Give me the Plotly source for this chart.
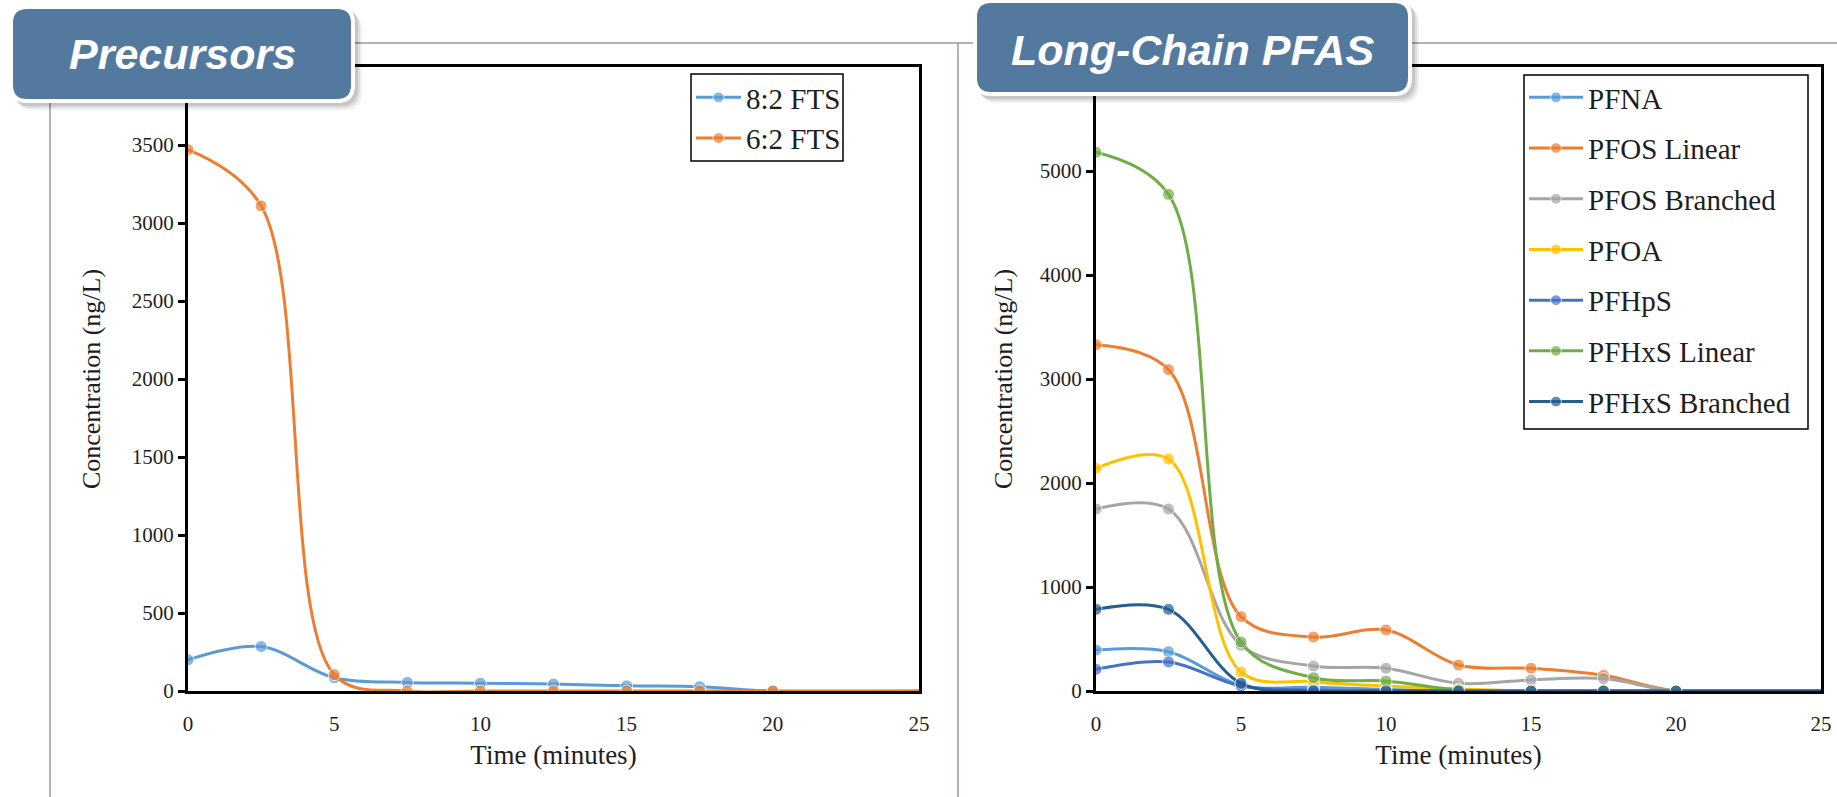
import plotly.graph_objects as go

# ---------------- data ----------------
time_min = [0, 2.5, 5, 7.5, 10, 12.5, 15, 17.5, 20, 25]

fts_82 = [200, 285, 85, 55, 50, 45, 33, 28, 0, 0]
fts_62 = [3470, 3110, 105, 0, 0, 0, 0, 0, 0, 0]

pfna = [394, 378, 54, 35, 15, 0, 0, 0, 0, 0]
pfos_linear = [3330, 3090, 715, 519, 587, 250, 218, 151, 0, 0]
pfos_branched = [1750, 1750, 439, 240, 218, 74, 106, 119, 0, 0]
pfoa = [2140, 2230, 183, 90, 48, 20, 0, 0, 0, 0]
pfhps = [208, 279, 48, 10, 5, 0, 0, 0, 0, 0]
pfhxs_linear = [5180, 4775, 471, 128, 96, 10, 0, 0, 0, 0]
pfhxs_branched = [785, 785, 74, 0, 0, 0, 0, 0, 0, 0]

x_ticks = [0, 5, 10, 15, 20, 25]
y_ticks_left = [0, 500, 1000, 1500, 2000, 2500, 3000, 3500]
y_ticks_right = [0, 1000, 2000, 3000, 4000, 5000]

left_series = [("8:2 FTS", fts_82, "#5B9BD5"), ("6:2 FTS", fts_62, "#ED7D31")]
right_series = [
    ("PFNA", pfna, "#5B9BD5"),
    ("PFOS Linear", pfos_linear, "#ED7D31"),
    ("PFOS Branched", pfos_branched, "#A5A5A5"),
    ("PFOA", pfoa, "#FFC000"),
    ("PFHpS", pfhps, "#4472C4"),
    ("PFHxS Linear", pfhxs_linear, "#70AD47"),
    ("PFHxS Branched", pfhxs_branched, "#255E91"),
]

W, H = 1837, 797
SERIF = "Liberation Serif, Times New Roman, serif"
SANS = "Liberation Sans, Arial, sans-serif"
TXT = "#1e1e1e"


def px(x):
    return x / W


def py(y):
    return 1 - y / H


marker_sizes = [12 if t < 25 else 0 for t in time_min]

fig = go.Figure()
for name, vals, col in left_series:
    fig.add_trace(go.Scatter(
        x=time_min, y=vals, name=name, mode="lines+markers",
        line=dict(shape="spline", smoothing=1, color=col, width=3),
        marker=dict(size=marker_sizes, color=col),
        xaxis="x", yaxis="y", legend="legend", legendgroup=name))
for name, vals, col in right_series:
    fig.add_trace(go.Scatter(
        x=time_min, y=vals, name=name, mode="lines+markers",
        line=dict(shape="spline", smoothing=1, color=col, width=3),
        marker=dict(size=marker_sizes, color=col),
        xaxis="x2", yaxis="y2", legend="legend2", legendgroup=name))

ydom = [py(691), py(67)]
axis_common = dict(showline=True, linecolor="black", linewidth=3, mirror=True,
                   showgrid=False, zeroline=False, layer="below traces", automargin=False,
                   tickfont=dict(family=SERIF, size=21, color=TXT))
xcommon = dict(axis_common, range=[0, 25], tickvals=x_ticks, ticks="",
               ticklabelstandoff=12,
               title=dict(text="Time (minutes)", font=dict(family=SERIF, size=27, color=TXT), standoff=10))
ycommon = dict(axis_common, ticks="outside", ticklen=7, tickwidth=2.5, tickcolor="black",
               title=dict(text="Concentration (ng/L)", font=dict(family=SERIF, size=26, color=TXT)))

legend_common = dict(xanchor="left", yanchor="top", borderwidth=0,
                     bgcolor="rgba(0,0,0,0)", traceorder="grouped",
                     font=dict(family=SERIF, size=29, color=TXT))


def rrect(x0, y0, x1, y1, r):
    pts = [
        f"M{px(x0 + r)},{py(y0)}", f"L{px(x1 - r)},{py(y0)}",
        f"Q{px(x1)},{py(y0)} {px(x1)},{py(y0 + r)}", f"L{px(x1)},{py(y1 - r)}",
        f"Q{px(x1)},{py(y1)} {px(x1 - r)},{py(y1)}", f"L{px(x0 + r)},{py(y1)}",
        f"Q{px(x0)},{py(y1)} {px(x0)},{py(y1 - r)}", f"L{px(x0)},{py(y0 + r)}",
        f"Q{px(x0)},{py(y0)} {px(x0 + r)},{py(y0)}", "Z"]
    return " ".join(pts)


FRAME = "#a0959a"
BOXBLUE = "#53799F"
shapes = [
    dict(type="line", xref="paper", yref="paper", x0=px(50), x1=1, y0=py(43), y1=py(43),
         line=dict(color=FRAME, width=1.5), layer="above"),
    dict(type="line", xref="paper", yref="paper", x0=px(50), x1=px(50), y0=py(43), y1=0,
         line=dict(color=FRAME, width=1.5), layer="above"),
    dict(type="line", xref="paper", yref="paper", x0=px(958), x1=px(958), y0=py(43), y1=0,
         line=dict(color=FRAME, width=1.5), layer="above"),
    # legend frames
    dict(type="rect", xref="paper", yref="paper", x0=px(691), x1=px(843), y0=py(74), y1=py(161),
         fillcolor="white", line=dict(color="black", width=1.5), layer="above"),
    dict(type="rect", xref="paper", yref="paper", x0=px(1524), x1=px(1808), y0=py(75), y1=py(429),
         fillcolor="white", line=dict(color="black", width=1.5), layer="above"),
]
for (x0, y0, x1, y1) in [(13, 9, 351, 99), (977, 3, 1408, 92)]:
    for off, alpha in [(7, 0.06), (5, 0.08), (3, 0.10)]:
        shapes.append(dict(type="path", xref="paper", yref="paper",
                           path=rrect(x0 - 4 + off, y0 - 4 + off, x1 + 4 + off, y1 + 4 + off, 18),
                           fillcolor=f"rgba(0,0,0,{alpha})", line=dict(width=0), layer="above"))
    shapes.append(dict(type="path", xref="paper", yref="paper",
                       path=rrect(x0 - 4, y0 - 4, x1 + 4, y1 + 4, 18),
                       fillcolor="white", line=dict(width=0), layer="above"))
    shapes.append(dict(type="path", xref="paper", yref="paper",
                       path=rrect(x0, y0, x1, y1, 14),
                       fillcolor=BOXBLUE, line=dict(width=0), layer="above"))

annotations = [
    dict(text="Precursors", xref="paper", yref="paper", x=px(182), y=py(54),
         xanchor="center", yanchor="middle", showarrow=False,
         font=dict(family=SANS, size=43, color="white", weight="bold", style="italic")),
    dict(text="Long-Chain PFAS", xref="paper", yref="paper", x=px(1192), y=py(50),
         xanchor="center", yanchor="middle", showarrow=False,
         font=dict(family=SANS, size=43, color="white", weight="bold", style="italic")),
]

fig.update_layout(
    width=W, height=H, autosize=False, margin=dict(l=0, r=0, t=0, b=0, pad=0, autoexpand=False),
    paper_bgcolor="white", plot_bgcolor="white", showlegend=True,
    xaxis=dict(xcommon, domain=[px(188), px(919)], anchor="y"),
    yaxis=dict(ycommon, domain=ydom, anchor="x", range=[0, 4000], tickvals=y_ticks_left,
               title=dict(ycommon["title"], standoff=24)),
    xaxis2=dict(xcommon, domain=[px(1096), px(1821)], anchor="y2"),
    yaxis2=dict(ycommon, domain=ydom, anchor="x2", range=[0, 6000], tickvals=y_ticks_right,
                title=dict(ycommon["title"], standoff=20)),
    legend=dict(legend_common, x=px(691), y=py(72), tracegroupgap=0, itemwidth=45),
    legend2=dict(legend_common, x=px(1524), y=py(72), tracegroupgap=10, itemwidth=54),
    shapes=shapes, annotations=annotations,
)

POST = (
    "var de=document.documentElement;de.style.margin='0';de.style.padding='0';"
    "de.style.overflow='hidden';de.style.height='797px';"
    "document.body.style.margin='0';document.body.style.padding='0';"
    "document.body.style.overflow='hidden';document.body.style.height='797px';"
    "var g=document.getElementById('{plot_id}');g.style.position='absolute';"
    "g.style.left='0px';g.style.top='0px';"
)
fig.write_html("out.html", config={"displayModeBar": False}, post_script=POST)
